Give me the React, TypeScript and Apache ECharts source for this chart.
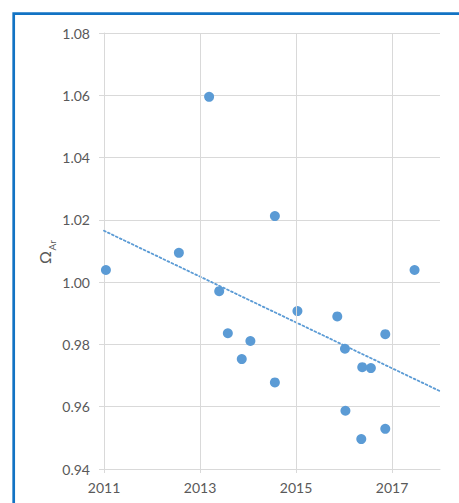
import React, { useEffect, useRef } from 'react';
import * as echarts from 'echarts';

// Sampling time (decimal year) and aragonite saturation state
const years = [2011.04, 2012.56, 2013.19, 2013.4, 2013.58, 2013.87, 2014.05, 2014.56, 2014.56, 2015.03, 2015.86, 2016.02, 2016.03, 2016.36, 2016.38, 2016.56, 2016.86, 2016.86, 2017.47];
const omega = [1.0039, 1.0094, 1.0595, 0.9971, 0.9836, 0.9753, 0.9811, 0.9678, 1.0212, 0.9907, 0.989, 0.9786, 0.9587, 0.9496, 0.9727, 0.9724, 0.9833, 0.9529, 1.0039];

// Linear trend line end points
const trendYears = [2011, 2018];
const trendValues = [1.0165, 0.965];

// Axis ticks
const xTickYears = [2011, 2013, 2015, 2017];
const xGridYears = [2013, 2015, 2017];
const yMin = 0.94;
const yMax = 1.08;
const yStep = 0.02;

const FONT = 'Lato';
const GREY_TEXT = '#595959';
const GRID = '#d9d9d9';
const BLUE = '#5b9bd5';

export default function App() {
  const ref = useRef<HTMLDivElement>(null);
  useEffect(() => {
    const chart = echarts.init(ref.current!, null, { renderer: 'svg' });
    chart.setOption({
      animation: false,
      grid: { left: 104, top: 33, right: 19, bottom: 34 },
      xAxis: {
        type: 'value',
        min: 2011,
        max: 2018,
        axisLine: { show: true, lineStyle: { color: GRID, width: 1 } },
        axisTick: { show: true, length: 4, lineStyle: { color: GRID }, customValues: xTickYears },
        axisLabel: {
          customValues: xTickYears,
          color: GREY_TEXT,
          fontFamily: FONT,
          fontSize: 14,
          margin: 11,
          formatter: (v: number) => String(v),
        },
        splitLine: { show: false },
      },
      yAxis: {
        type: 'value',
        min: yMin,
        max: yMax,
        interval: yStep,
        axisLine: { show: true, lineStyle: { color: GRID, width: 1 } },
        axisTick: { show: true, length: 5, lineStyle: { color: GRID } },
        axisLabel: {
          color: GREY_TEXT,
          fontFamily: FONT,
          fontSize: 14,
          margin: 14,
          formatter: (v: number) => v.toFixed(2),
        },
        splitLine: { show: true, lineStyle: { color: GRID, width: 1 } },
      },
      graphic: [
        {
          type: 'rect',
          shape: { x: 13.7, y: 13.7, width: 520, height: 520 },
          style: { fill: 'none', stroke: '#1273c4', lineWidth: 2.7 },
          silent: true,
          z: 100,
        },
        {
          type: 'group',
          x: 44,
          y: 254,
          rotation: Math.PI / 2,
          children: [
            {
              type: 'text',
              x: -10,
              y: 0,
              style: { text: 'Ω', fill: GREY_TEXT, font: `16px ${FONT}`, textAlign: 'left', textVerticalAlign: 'middle' },
            },
            {
              type: 'text',
              x: 3.5,
              y: 8,
              style: { text: 'Ar', fill: GREY_TEXT, font: `10px ${FONT}`, textAlign: 'left', textVerticalAlign: 'middle' },
            },
          ],
        },
      ],
      series: [
        {
          type: 'scatter',
          data: [],
          silent: true,
          z: 1,
          markLine: {
            silent: true,
            symbol: 'none',
            label: { show: false },
            lineStyle: { color: GRID, width: 1, type: 'solid' },
            data: xGridYears.map((y) => ({ xAxis: y })),
          },
        },
        {
          type: 'scatter',
          data: years.map((y, i) => [y, omega[i]]),
          symbolSize: 10,
          itemStyle: { color: BLUE, opacity: 1 },
          z: 2,
        },
        {
          type: 'line',
          data: trendYears.map((y, i) => [y, trendValues[i]]),
          symbol: 'none',
          lineStyle: { color: BLUE, width: 1.8, type: [1.8, 2.6], cap: 'round' },
          z: 3,
        },
      ],
    });
    return () => chart.dispose();
  }, []);
  return (
    <div
      ref={ref}
      style={{ position: 'fixed', left: 0, top: 0, width: 459, height: 503, background: '#fff' }}
    />
  );
}
